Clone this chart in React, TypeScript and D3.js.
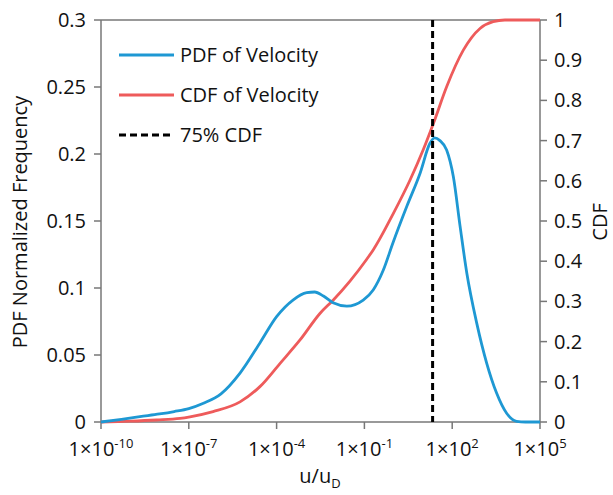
import React from "react";
import * as d3 from "d3";

// log10(u/uD) positions and PDF values
const pdfLog10U = [-10, -9.3, -8.67, -8.0, -7.5, -7.0, -6.5, -5.9, -5.25, -4.57, -4.0, -3.44, -2.97, -2.7, -2.4, -2.07, -1.6, -1.04, -0.7, -0.36, -0.02, 0.45, 0.9, 1.24, 1.4, 1.58, 1.81, 2.04, 2.27, 2.5, 2.84, 3.18, 3.52, 3.86, 4.2, 4.5, 5];
const pdfValues = [0, 0.002, 0.004, 0.006, 0.0078, 0.010, 0.014, 0.021, 0.0365, 0.059, 0.0786, 0.091, 0.0965, 0.097, 0.094, 0.089, 0.0865, 0.091, 0.0985, 0.113, 0.134, 0.161, 0.1855, 0.208, 0.212, 0.21, 0.203, 0.183, 0.146, 0.111, 0.0736, 0.0438, 0.0214, 0.0065, 0.0005, 0, 0];

const cdfLog10U = [-10, -9, -8.1, -7.3, -6.96, -6.17, -5.25, -4.57, -3.88, -3.2, -2.52, -2.07, -1.5, -0.92, -0.7, -0.01, 0.56, 1.01, 1.36, 1.81, 2.38, 2.95, 3.4, 3.8, 5];
const cdfValues = [0, 0.002, 0.005, 0.009, 0.013, 0.026, 0.05, 0.088, 0.146, 0.204, 0.27, 0.303, 0.35, 0.405, 0.428, 0.519, 0.602, 0.677, 0.743, 0.834, 0.925, 0.979, 0.996, 1, 1];

const cdf75U = 21.4;

const xTickExponents = [-10, -7, -4, -1, 2, 5];
const leftTicks = [0, 0.05, 0.1, 0.15, 0.2, 0.25, 0.3];
const leftTickLabels = ["0", "0.05", "0.1", "0.15", "0.2", "0.25", "0.3"];
const rightTicks = [0, 0.1, 0.2, 0.3, 0.4, 0.5, 0.6, 0.7, 0.8, 0.9, 1];
const rightTickLabels = ["0", "0.1", "0.2", "0.3", "0.4", "0.5", "0.6", "0.7", "0.8", "0.9", "1"];

const legendLabels = ["PDF of Velocity", "CDF of Velocity", "75% CDF"];

const W = 613, H = 495;
const L = 101, R = 540, T = 20, B = 422;
const BLUE = "#1E98D3";
const RED = "#EE5B5B";
const AXIS = "#777";
const FONT = "'Open Sans', sans-serif";
const FS = 20;

export default function App() {
  const x = d3.scaleLog().domain([1e-10, 1e5]).range([L, R]);
  const yL = d3.scaleLinear().domain([0, 0.3]).range([B, T]);
  const yR = d3.scaleLinear().domain([0, 1]).range([B, T]);

  const pdfLine = d3.line<number>()
    .x((_, i) => x(Math.pow(10, pdfLog10U[i])))
    .y((d) => yL(d))
    .curve(d3.curveMonotoneX);
  const cdfLine = d3.line<number>()
    .x((_, i) => x(Math.pow(10, cdfLog10U[i])))
    .y((d) => yR(d))
    .curve(d3.curveMonotoneX);

  const legendY = [55, 95, 135];

  return (
    <svg width={W} height={H} style={{ position: "absolute", left: 0, top: 0, background: "#fff" }} fontFamily={FONT}>
      <rect width={W} height={H} fill="#fff" />
      <line x1={L} x2={R} y1={T} y2={T} stroke={AXIS} strokeWidth={1.5} />
      <line x1={L} x2={R} y1={B} y2={B} stroke={AXIS} strokeWidth={1.5} />
      <line x1={L} x2={L} y1={T} y2={B} stroke={AXIS} strokeWidth={1.5} />
      <line x1={R} x2={R} y1={T} y2={B} stroke={AXIS} strokeWidth={1.5} />

      {leftTicks.map((t, i) => (
        <g key={"l" + i}>
          <line x1={L - 7} x2={L} y1={yL(t)} y2={yL(t)} stroke={AXIS} strokeWidth={1.5} />
          <text x={L - 15} y={yL(t)} dy="0.35em" textAnchor="end" fontSize={FS} fill="#111">{leftTickLabels[i]}</text>
        </g>
      ))}
      {rightTicks.map((t, i) => (
        <g key={"r" + i}>
          <line x1={R} x2={R + 7} y1={yR(t)} y2={yR(t)} stroke={AXIS} strokeWidth={1.5} />
          <text x={R + 14} y={yR(t)} dy="0.35em" textAnchor="start" fontSize={FS} fill="#111">{rightTickLabels[i]}</text>
        </g>
      ))}
      {xTickExponents.map((e, i) => (
        <g key={"x" + i}>
          <line x1={x(Math.pow(10, e))} x2={x(Math.pow(10, e))} y1={B} y2={B + 7} stroke={AXIS} strokeWidth={1.5} />
          <text x={x(Math.pow(10, e))} y={456} textAnchor="middle" fontSize={FS} fill="#111">
            1×10<tspan dy={-8} fontSize={13}>{String(e)}</tspan>
          </text>
        </g>
      ))}

      <path d={cdfLine(cdfValues) || ""} fill="none" stroke={RED} strokeWidth={2.8} />
      <path d={pdfLine(pdfValues) || ""} fill="none" stroke={BLUE} strokeWidth={2.8} />
      <line x1={x(cdf75U)} x2={x(cdf75U)} y1={T} y2={B} stroke="#000" strokeWidth={3} strokeDasharray="7,4" />

      <line x1={119} x2={174} y1={legendY[0]} y2={legendY[0]} stroke={BLUE} strokeWidth={2.8} />
      <line x1={119} x2={174} y1={legendY[1]} y2={legendY[1]} stroke={RED} strokeWidth={2.8} />
      <line x1={119} x2={174} y1={legendY[2]} y2={legendY[2]} stroke="#000" strokeWidth={3} strokeDasharray="7,4" />
      {legendLabels.map((s, i) => (
        <text key={"lg" + i} x={180} y={legendY[i]} dy="0.35em" fontSize={FS} fill="#111">{s}</text>
      ))}

      <text transform={`translate(27,222) rotate(-90)`} textAnchor="middle" fontSize={FS} fill="#111">PDF Normalized Frequency</text>
      <text transform={`translate(607,222) rotate(-90)`} textAnchor="middle" fontSize={FS} fill="#111">CDF</text>
      <text x={320} y={483} textAnchor="middle" fontSize={FS} fill="#111">
        u/u<tspan dy={5} fontSize={13}>D</tspan>
      </text>
    </svg>
  );
}
